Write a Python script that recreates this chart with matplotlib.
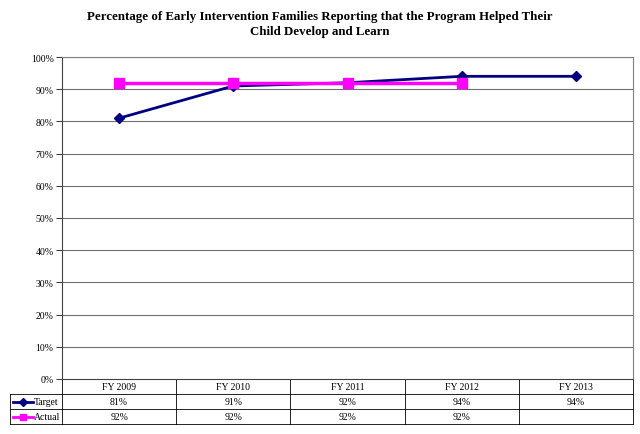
import matplotlib
matplotlib.use("Agg")
import matplotlib.pyplot as plt
from matplotlib.transforms import blended_transform_factory
from matplotlib.lines import Line2D

categories = ["FY 2009", "FY 2010", "FY 2011", "FY 2012", "FY 2013"]
target = [81, 91, 92, 94, 94]
actual = [92, 92, 92, 92]
yticks = [0, 10, 20, 30, 40, 50, 60, 70, 80, 90, 100]

plt.rcParams['font.family'] = ['Liberation Serif', 'DejaVu Serif']

W, H = 640, 435
fig = plt.figure(figsize=(W / 100, H / 100), dpi=100)
L, R, T, B = 62, 633, 58, 380
ax = fig.add_axes([L / W, (H - B) / H, (R - L) / W, (B - T) / H])

x = list(range(len(categories)))
ax.plot(x[:len(target)], target, color='#000080', lw=2, marker='D', ms=5.5,
        zorder=3, clip_on=False)
ax.plot(x[:len(actual)], actual, color='#FF00FF', lw=2.5, marker='s', ms=7,
        zorder=4, clip_on=False)

ax.set_xlim(-0.5, len(categories) - 0.5)
ax.set_ylim(0, 100)
ax.set_yticks(yticks)
ax.set_yticklabels([f"{v}%" for v in yticks], fontsize=7)
ax.set_xticks([])
ax.tick_params(axis='y', length=4, width=0.8, color='#404040', pad=2)
for v in yticks[1:]:
    ax.axhline(v, color='#707070', lw=0.8, zorder=1)
for s in ['top', 'right']:
    ax.spines[s].set_color('#808080')
ax.spines['left'].set_color('#404040')
ax.spines['bottom'].set_color('#404040')
for s in ax.spines.values():
    s.set_linewidth(0.8)

# data table
ah = B - T
rh = 15 / ah
tr = blended_transform_factory(ax.transData, ax.transAxes)
lc = 'black'
n = len(categories)
xl, xr = -0.5, n - 0.5
for i in range(1, 4):
    ax.add_line(Line2D([xl, xr], [-i * rh, -i * rh], transform=tr, color=lc,
                       lw=0.6, clip_on=False))
for i in range(n + 1):
    ax.add_line(Line2D([i - 0.5, i - 0.5], [0, -3 * rh], transform=tr, color=lc,
                       lw=0.6, clip_on=False))
fx0 = 10 / W
figtr = blended_transform_factory(fig.transFigure, ax.transAxes)
for i in range(1, 4):
    ax.add_line(Line2D([fx0, L / W], [-i * rh, -i * rh], transform=figtr,
                       color=lc, lw=0.6, clip_on=False))
ax.add_line(Line2D([fx0, fx0], [-rh, -3 * rh], transform=figtr, color=lc,
                   lw=0.6, clip_on=False))

for i, c in enumerate(categories):
    ax.text(i, -0.5 * rh, c, transform=tr, ha='center', va='center', fontsize=7)
for i, v in enumerate(target):
    ax.text(i, -1.5 * rh, f"{v}%", transform=tr, ha='center', va='center', fontsize=7)
for i, v in enumerate(actual):
    ax.text(i, -2.5 * rh, f"{v}%", transform=tr, ha='center', va='center', fontsize=7)

for row, (name, col, mk, ms) in enumerate([("Target", '#000080', 'D', 4),
                                          ("Actual", '#FF00FF', 's', 5)]):
    yy = -(1.5 + row) * rh
    ax.add_line(Line2D([13 / W, 33 / W], [yy, yy], transform=figtr, color=col,
                       lw=2, clip_on=False))
    ax.add_line(Line2D([23 / W], [yy], transform=figtr, color=col, marker=mk,
                       ms=ms, clip_on=False))
    ax.text(34 / W, yy, name, transform=figtr, ha='left', va='center', fontsize=7)

fig.text(0.5, 1 - 17 / H, "Percentage of Early Intervention Families Reporting that the Program Helped Their",
         ha='center', va='center', fontsize=9.3, fontweight='bold')
fig.text(0.5, 1 - 32 / H, "Child Develop and Learn",
         ha='center', va='center', fontsize=9.3, fontweight='bold')

fig.savefig("out.png", dpi=100)
